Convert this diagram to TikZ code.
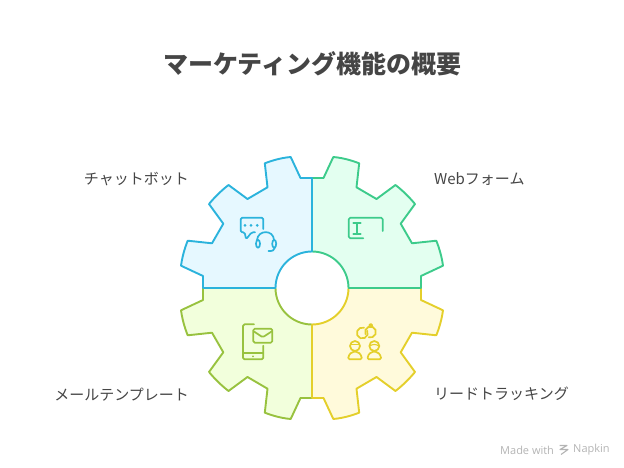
\documentclass[tikz,border=0pt]{standalone}
\usepackage{fontspec}
\setmainfont{Noto Sans CJK JP}
\newfontfamily\markfont{Open Sans}
\usepackage{tikz}
\usetikzlibrary{positioning}

\definecolor{skyline}{HTML}{2BB3DC}
\definecolor{skyfill}{HTML}{E6F8FF}
\definecolor{mintline}{HTML}{3DCB8B}
\definecolor{mintfill}{HTML}{E3FFF0}
\definecolor{goldline}{HTML}{E4CF2B}
\definecolor{goldfill}{HTML}{FFFADB}
\definecolor{limeline}{HTML}{98C23F}
\definecolor{limefill}{HTML}{F2FFDC}
\definecolor{labeltext}{HTML}{454545}
\definecolor{marktext}{HTML}{B4B4B4}

\tikzset{
    gearpart/.style={line width=1.9pt,line join=round},
    iconline/.style={line width=1.7pt,line cap=round,line join=round,rounded corners=1.5pt},
    itemlabel/.style={text=labeltext,inner sep=0pt,font=\fontsize{15}{16}\selectfont},
    marklabel/.style={text=marktext,inner sep=0pt,font=\markfont\fontsize{11}{12}\selectfont},
}

\begin{document}
\begin{tikzpicture}[x=1pt,y=-1pt]
    \useasboundingbox (0,0) rectangle (624,468);

    % 标题
    \node[text=labeltext,inner sep=0pt,font=\bfseries\fontsize{25}{28}\selectfont] (title) at (312,64) {マーケティング機能の概要};

    % 四块齿轮
    \foreach \sx/\sy/\c in {-1/1/lime,1/1/gold,1/-1/mint,-1/-1/sky} {
        \begin{scope}[shift={(312,288)},xscale=\sx,yscale=\sy]
            \draw[gearpart,draw=\c line,fill=\c fill] (0,110) -- (11.5,110) -- (21.3,131)
                .. controls (30.3,130.2) and (38.8,127.9) .. (47.2,124.7)
                -- (44.5,100.7) -- (64.5,89) -- (83.5,103)
                .. controls (90.7,97.4) and (97.2,91) .. (103,84)
                -- (88.7,64.3) -- (100,44.7) -- (124.3,47.3)
                .. controls (127.5,39.3) and (129.8,30.9) .. (131,22.3)
                -- (109,12) -- (109,0) -- (36.5,0)
                arc[start angle=0,end angle=90,radius=36.5] -- cycle;
        \end{scope}
    }

    % 聊天机器人图标
    \draw[iconline,skyline] (263.3,229) -- (263.3,217.7) -- (240.7,217.7) -- (240.7,232.3) -- (244.7,232.3) -- (246,239.3) -- (251.7,232.3) -- (255,232.3);
    \foreach \x in {245,251,257.2} {
        \fill[skyline] (\x,225.3) circle (1.5);
    }
    \draw[iconline,skyline] (257,240) .. controls (258,229.5) and (273.5,229.5) .. (274,240);
    \draw[iconline,skyline] (258,243.8) ellipse (2 and 4);
    \draw[iconline,skyline] (274.2,243.8) ellipse (2 and 4);
    \draw[iconline,skyline] (275,247.5) .. controls (275,250) and (272,251.5) .. (268.5,251);

    % 表单图标
    \draw[iconline,mintline] (363.3,238.3) -- (348.8,238.3) -- (348.8,217.7) -- (382.7,217.7) -- (382.7,231);
    \draw[iconline,mintline] (353.3,223) -- (360.7,223) (353.3,234.3) -- (360.7,234.3) (357,223) -- (357,234.3);

    % 邮件图标
    \draw[iconline,limeline] (254,324.3) -- (243,324.3) -- (243,359.3) -- (263.3,359.3) -- (263.3,345.7);
    \draw[iconline,limeline] (243,353.3) -- (263.3,353.3);
    \fill[limeline] (253,356.3) circle (1);
    \draw[iconline,limeline] (253.3,328.7) rectangle (272.3,342.7);
    \draw[iconline,limeline] (254,331.5) -- (262.7,337.3) -- (271.6,331.5);

    % 跟踪图标
    \draw[iconline,goldline,sharp corners] (362.3,333) ++(-25:5.5) arc[start angle=-25,end angle=288,radius=5.5];
    \draw[iconline,goldline,sharp corners] (370.5,332) ++(158:5.5) arc[start angle=158,end angle=468,radius=5.5];
    \draw[iconline,goldline] (370.7,325.5) circle (1.6);
    \foreach \x in {355,374.3} {
        \draw[iconline,goldline] (\x,346) circle (5);
        \draw[iconline,goldline] (\x-7,359.3) .. controls (\x-6,353.5) and (\x-3,352) .. (\x,351.7) .. controls (\x+3,352) and (\x+6,353.5) .. (\x+7,359.3) -- cycle;
    }
    \draw[goldline,line width=1.1pt] (350.5,344.5) -- (359.5,344.5);
    \draw[goldline,line width=1.1pt] (369.8,346) .. controls (372,344) and (376.5,344) .. (378.8,346);

    % 标签
    \node[itemlabel,anchor=east] (chatbot) at (189,179) {チャットボット};
    \node[itemlabel,anchor=west] (webform) at (434,179) {Webフォーム};
    \node[itemlabel,anchor=east] (mailtpl) at (189,395) {メールテンプレート};
    \node[itemlabel,anchor=west] (leadtrack) at (434,394) {リードトラッキング};

    % 水印
    \node[marklabel,anchor=west] (madewith) at (500,450) {Made with};
    \node[marklabel,anchor=west] (napkin) at (573,450) {Napkin};
    \draw[marktext,line width=1.1pt,line join=round] (559.5,445.5) -- (567,445.5) -- (560,449.5) -- (568,449.5) -- (561,454.5);
\end{tikzpicture}
\end{document}
